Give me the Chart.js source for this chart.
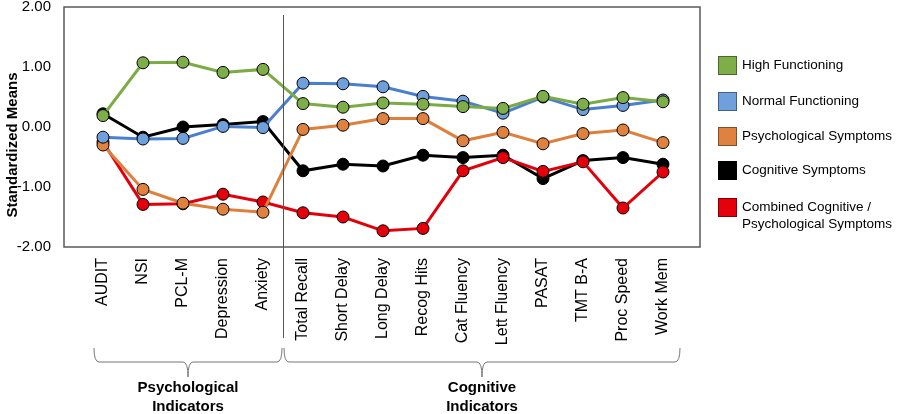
<!DOCTYPE html>
<html>
<head>
<meta charset="utf-8">
<script src="https://cdn.jsdelivr.net/npm/chart.js@4.4.1/dist/chart.umd.min.js"></script>
<style>
  body { margin: 0; background: #fff; }
  #wrap { position: relative; width: 900px; height: 414px; }
  #legend { position: absolute; left: 0; top: 0; font-family: "Liberation Sans", Arial, sans-serif; font-size: 13.5px; color: #000; }
  .item { position: absolute; left: 718px; white-space: nowrap; }
  .sw { position: absolute; left: 0; top: 0; width: 17px; height: 17px; border: 1px solid rgba(0,0,0,0.4); }
  .txt { position: absolute; left: 24px; top: 0; line-height: 17px; }
</style>
</head>
<body>
<div id="wrap">
  <canvas id="chart" width="900" height="414"></canvas>
  <div id="legend"></div>
</div>
<script>
// ---------- DATA ----------
const categories = [
  "AUDIT", "NSI", "PCL-M", "Depression", "Anxiety",
  "Total Recall", "Short Delay", "Long Delay", "Recog Hits", "Cat Fluency",
  "Lett Fluency", "PASAT", "TMT B-A", "Proc Speed", "Work Mem",
];
const highFunctioning = [0.19, 1.07, 1.08, 0.91, 0.96, 0.39, 0.33, 0.40, 0.38, 0.34, 0.31, 0.51, 0.38, 0.49, 0.42];
const normalFunctioning = [-0.17, -0.20, -0.19, 0.01, -0.01, 0.73, 0.72, 0.67, 0.51, 0.43, 0.23, 0.50, 0.29, 0.36, 0.45];
const psychSymptoms = [-0.30, -1.04, -1.27, -1.37, -1.42, -0.04, 0.03, 0.14, 0.14, -0.23, -0.09, -0.28, -0.11, -0.05, -0.26];
const cogSymptoms = [0.22, -0.17, 0.00, 0.04, 0.09, -0.73, -0.62, -0.65, -0.47, -0.51, -0.47, -0.86, -0.56, -0.51, -0.62];
const combinedSymptoms = [-0.25, -1.29, -1.28, -1.12, -1.25, -1.43, -1.50, -1.73, -1.69, -0.73, -0.51, -0.74, -0.58, -1.35, -0.75];

const seriesNames = [
  "High Functioning",
  "Normal Functioning",
  "Psychological Symptoms",
  "Cognitive Symptoms",
  "Combined Cognitive /\nPsychological Symptoms",
];
const yTicks = [-2, -1, 0, 1, 2];
const groups = [
  { label: ["Psychological", "Indicators"], from: -0.25, to: 4.5 },
  { label: ["Cognitive", "Indicators"], from: 4.5, to: 14.45 },
];

// ---------- STYLE ----------
const lineColors = ["#7AAB45", "#4A7FCF", "#DE7F3C", "#000000", "#E3000B"];
const pointColors = ["#7DAE4A", "#6FA0DC", "#E0823F", "#000000", "#E3000B"];
const FONT = "'Liberation Sans', Arial, sans-serif";

function toPoints(values) {
  return values.map((v, i) => ({ x: i, y: v }));
}

const allSeries = [highFunctioning, normalFunctioning, psychSymptoms, cogSymptoms, combinedSymptoms];

// ---------- LEGEND ----------
const legendTops = [56, 92, 127, 161, 198];
const legendEl = document.getElementById("legend");
seriesNames.forEach((name, i) => {
  const item = document.createElement("div");
  item.className = "item";
  item.style.top = legendTops[i] + "px";
  const sw = document.createElement("div");
  sw.className = "sw";
  sw.style.background = pointColors[i];
  const txt = document.createElement("div");
  txt.className = "txt";
  txt.innerHTML = name.replace("\n", "<br>");
  item.appendChild(sw);
  item.appendChild(txt);
  legendEl.appendChild(item);
});

// ---------- EXTRA DRAWING ----------
const decorations = {
  id: "decorations",
  afterDraw(chart) {
    const { ctx, chartArea, scales } = chart;
    const x = scales.x;
    ctx.save();

    // frame
    ctx.strokeStyle = "#595959";
    ctx.lineWidth = 1.5;
    ctx.strokeRect(chartArea.left, chartArea.top, chartArea.right - chartArea.left, chartArea.bottom - chartArea.top);

    // separator between groups
    const sx = Math.round(x.getPixelForValue(4.5)) + 0.5;
    ctx.strokeStyle = "#555";
    ctx.lineWidth = 1;
    ctx.beginPath();
    ctx.moveTo(sx, 15);
    ctx.lineTo(sx, 338);
    ctx.stroke();

    // y title
    ctx.fillStyle = "#000";
    ctx.font = "bold 15px " + FONT;
    ctx.textAlign = "center";
    ctx.textBaseline = "middle";
    ctx.translate(13, 145);
    ctx.rotate(-Math.PI / 2);
    ctx.fillText("Standardized Means", 0, 0);
    ctx.setTransform(1, 0, 0, 1, 0, 0);

    // braces + group labels
    groups.forEach((g) => {
      const x1 = x.getPixelForValue(g.from) + 1;
      const x2 = x.getPixelForValue(g.to) - 1;
      const xc = (x1 + x2) / 2;
      const yTop = 348, yMid = 362, yTip = 377, r = 5;
      ctx.strokeStyle = "#777";
      ctx.lineWidth = 1;
      ctx.beginPath();
      ctx.moveTo(x1, yTop);
      ctx.quadraticCurveTo(x1, yMid, x1 + r, yMid);
      ctx.lineTo(xc - r, yMid);
      ctx.quadraticCurveTo(xc, yMid, xc, yTip);
      ctx.moveTo(xc, yTip);
      ctx.quadraticCurveTo(xc, yMid, xc + r, yMid);
      ctx.lineTo(x2 - r, yMid);
      ctx.quadraticCurveTo(x2, yMid, x2, yTop);
      ctx.stroke();

      ctx.fillStyle = "#000";
      ctx.font = "bold 15px " + FONT;
      ctx.textAlign = "center";
      ctx.textBaseline = "middle";
      ctx.fillText(g.label[0], xc, 388);
      ctx.fillText(g.label[1], xc, 407);
    });

    ctx.restore();
  },
};

// ---------- CHART ----------
const ctx = document.getElementById("chart").getContext("2d");

new Chart(ctx, {
  type: "line",
  data: {
    datasets: allSeries.map((values, i) => ({
      label: seriesNames[i],
      data: toPoints(values),
      borderColor: lineColors[i],
      borderWidth: 3,
      pointRadius: 6,
      pointBorderWidth: 1,
      pointBorderColor: "#000",
      pointBackgroundColor: pointColors[i],
      tension: 0,
      order: [1, 2, 3, 5, 4][i],
    })),
  },
  options: {
    responsive: false,
    animation: false,
    layout: { padding: { top: 6, right: 200, left: 0, bottom: 0 } },
    plugins: {
      legend: { display: false },
      tooltip: { enabled: false },
    },
    scales: {
      x: {
        type: "linear",
        min: -0.975,
        max: 14.925,
        grid: { display: false },
        border: { display: false },
        afterBuildTicks: (scale) => {
          scale.ticks = categories.map((c, i) => ({ value: i }));
        },
        afterFit: (scale) => {
          scale.height = 167;
          scale.paddingLeft = 0;
          scale.paddingRight = 0;
        },
        ticks: {
          autoSkip: false,
          minRotation: 90,
          maxRotation: 90,
          padding: 3,
          color: "#000",
          font: { family: FONT, size: 16 },
          callback: (value) => categories[value],
        },
      },
      y: {
        min: -2,
        max: 2,
        grid: { display: false, drawTicks: false },
        border: { display: false },
        afterBuildTicks: (scale) => {
          scale.ticks = yTicks.map((v) => ({ value: v }));
        },
        afterFit: (scale) => {
          scale.width = 64;
          scale.paddingTop = 0;
          scale.paddingBottom = 0;
        },
        ticks: {
          padding: 13,
          color: "#000",
          font: { family: FONT, size: 15 },
          callback: (value) => value.toFixed(2),
        },
      },
    },
  },
  plugins: [decorations],
});
</script>
</body>
</html>
